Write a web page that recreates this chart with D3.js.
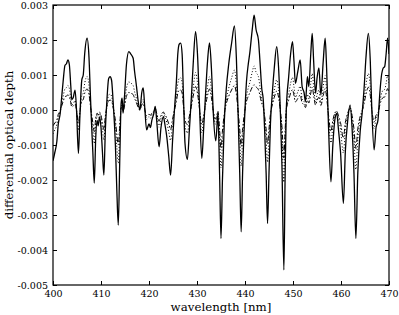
<!DOCTYPE html>
<html>
<head>
<meta charset="utf-8">
<script src="https://cdnjs.cloudflare.com/ajax/libs/d3/7.8.5/d3.min.js"></script>
<style>
  body { margin: 0; background: #fff; }
  svg { display: block; }
  .tick text { font-family: "DejaVu Serif", serif; font-size: 9.5px; fill: #000; }
  .lbl { font-family: "DejaVu Serif", serif; font-size: 11.8px; fill: #000; }
</style>
</head>
<body>
<div id="chart"></div>
<script>
// wavelength in nm
var wavelength = [400.0, 400.4, 400.8, 401.1, 401.5, 401.8, 402.1, 402.5, 402.8, 403.1,
  403.4, 403.7, 403.9, 404.2, 404.6, 404.9, 405.3, 405.6, 406.0, 406.3,
  406.6, 407.1, 407.5, 407.8, 408.0, 408.3, 408.6, 408.9, 409.2, 409.4,
  409.7, 410.0, 410.3, 410.6, 410.9, 411.2, 411.6, 411.9, 412.2, 412.5,
  413.0, 413.3, 413.6, 413.9, 414.2, 414.4, 414.6, 414.9, 415.3, 415.8,
  416.2, 416.7, 417.0, 417.4, 417.7, 418.1, 418.5, 418.8, 419.1, 419.5,
  420.0, 420.3, 420.6, 421.0, 421.3, 421.6, 422.1, 422.5, 423.0, 423.3,
  423.7, 424.1, 424.5, 424.9, 425.3, 425.7, 426.0, 426.3, 426.6, 426.9,
  427.2, 427.5, 428.0, 428.4, 428.8, 429.2, 429.7, 430.1, 430.5, 431.0,
  431.4, 431.8, 432.2, 432.6, 433.0, 433.4, 433.9, 434.1, 434.35, 434.7,
  435.0, 435.3, 435.7, 436.1, 436.6, 437.2, 437.8, 438.2, 438.6, 438.9,
  439.2, 439.5, 439.9, 440.3, 440.7, 441.0, 441.5, 441.9, 442.3, 442.8,
  443.1, 443.5, 443.8, 444.1, 444.4, 444.7, 445.0, 445.3, 445.7, 446.1,
  446.6, 447.0, 447.4, 447.7, 448.1, 448.35, 448.6, 449.1, 449.5, 449.9,
  450.2, 450.5, 451.0, 451.5, 451.9, 452.3, 452.6, 453.0, 453.3, 453.7,
  454.0, 454.3, 454.7, 455.0, 455.4, 455.8, 456.3, 456.7, 457.0, 457.4,
  457.9, 458.3, 458.7, 459.1, 459.5, 459.9, 460.5, 460.9, 461.4, 461.9,
  462.3, 462.7, 463.1, 463.5, 464.0, 464.4, 464.8, 465.2, 465.7, 466.1,
  466.4, 466.9, 467.3, 467.7, 468.1, 468.4, 468.8, 469.1, 469.4, 469.7,
  470.0];

// differential optical depth, in units of 1e-3
var solid = [-1.45, -1.2, -0.9, -0.4, -0.1, 0.35, 0.8, 1.28, 1.32, 1.43,
  1.3, 0.7, 0.3, 0.35, 0.57, 0.0, -1.24, -0.2, 0.86, 1.0,
  1.6, 2.05, 1.5, 0.4, -0.3, -1.2, -2.09, -0.8, -0.3, -0.45,
  -0.2, -0.5, -1.2, -1.86, -0.6, 0.2, 0.9, 0.95, 0.85, 0.3,
  -1.0, -2.3, -3.29, -1.5, 0.2, 0.34, -0.09, 0.4, 1.3, 1.67,
  1.6, 1.48, 1.1, 0.67, 0.3, 0.0, 0.5, 0.63, 0.1, -0.57,
  -0.4, -0.5, -0.29, -0.1, 0.1, -0.3, -1.05, -0.5, -0.19, -0.4,
  -0.76, -1.3, -1.86, -0.9, 0.0, 0.8, 1.6, 1.88, 1.91, 1.6,
  0.3, -0.95, -1.41, -0.6, 0.3, 1.3, 2.24, 1.6, 0.2, -1.38,
  -0.5, 0.5, 1.4, 1.92, 1.2, -0.1, -0.88, -0.6, -0.1, -1.8,
  -3.67, -2.0, -0.3, 0.6, 1.3, 1.9, 2.4, 1.5, -0.3, -1.8,
  -3.48, -1.8, -0.3, 0.8, 1.33, 1.63, 2.29, 2.71, 2.3, 2.0,
  1.43, 0.6, 0.3, -0.6, -1.8, -3.24, -1.8, -0.4, 0.5, 1.2,
  1.81, 1.2, -0.2, -1.6, -4.57, -2.0, 0.0, 0.95, 1.6, 1.95,
  1.4, 0.76, 1.1, 1.43, 0.67, 0.5, 0.24, 0.95, 0.67, 1.6,
  2.19, 1.4, 0.48, 0.9, 1.2, 0.43, 1.4, 2.05, 1.2, -0.48,
  -2.05, -1.0, -0.3, -0.1, -0.6, -1.2, -2.67, -1.2, -0.3, 0.14,
  -0.5, -1.8, -3.67, -1.8, -0.6, -0.1, 0.6, 1.5, 2.19, 1.4,
  0.1, -1.14, -0.5, -0.29, 0.5, 0.95, 1.2, 1.24, 1.6, 2.05,
  1.6];

var dotted = [-0.68, -0.56, -0.42, -0.19, -0.05, 0.17, 0.38, 0.61, 0.64, 0.70,
  0.62, 0.33, 0.14, 0.17, 0.27, 0.0, -0.58, -0.09, 0.41, 0.48,
  0.76, 0.96, 0.71, 0.19, -0.14, -0.55, -0.96, -0.37, -0.14, -0.21,
  -0.09, -0.23, -0.55, -0.86, -0.28, 0.09, 0.43, 0.45, 0.40, 0.14,
  -0.46, -1.06, -1.52, -0.69, 0.09, 0.16, -0.04, 0.19, 0.62, 0.80,
  0.77, 0.70, 0.52, 0.32, 0.14, 0.0, 0.24, 0.30, 0.05, -0.27,
  -0.19, -0.24, -0.14, -0.05, 0.05, -0.14, -0.49, -0.24, -0.09, -0.19,
  -0.36, -0.61, -0.87, -0.42, 0.0, 0.38, 0.76, 0.90, 0.92, 0.77,
  0.14, -0.45, -0.66, -0.28, 0.14, 0.62, 1.07, 0.77, 0.10, -0.65,
  -0.24, 0.24, 0.67, 0.95, 0.58, -0.05, -0.41, -0.28, -0.05, -0.83,
  -1.65, -0.92, -0.14, 0.29, 0.62, 0.91, 1.14, 0.72, -0.14, -0.83,
  -1.60, -0.83, -0.14, 0.38, 0.64, 0.78, 1.08, 1.26, 1.08, 0.95,
  0.68, 0.28, 0.14, -0.28, -0.83, -1.49, -0.83, -0.19, 0.24, 0.57,
  0.86, 0.57, -0.09, -0.74, -2.06, -0.92, 0.0, 0.45, 0.76, 0.93,
  0.67, 0.36, 0.52, 0.68, 0.32, 0.24, 0.11, 0.45, 0.32, 0.76,
  1.04, 0.67, 0.23, 0.43, 0.57, 0.20, 0.67, 0.98, 0.57, -0.23,
  -0.94, -0.47, -0.14, -0.05, -0.28, -0.56, -1.23, -0.56, -0.14, 0.07,
  -0.24, -0.83, -1.70, -0.83, -0.28, -0.05, 0.29, 0.72, 1.04, 0.67,
  0.05, -0.53, -0.24, -0.14, 0.24, 0.45, 0.57, 0.59, 0.76, 0.98,
  0.76];

var dashdot = [-0.45, -0.37, -0.28, -0.12, -0.03, 0.11, 0.24, 0.38, 0.40, 0.43,
  0.39, 0.21, 0.09, 0.11, 0.17, 0.0, -0.37, -0.06, 0.26, 0.30,
  0.48, 0.60, 0.45, 0.12, -0.09, -0.36, -0.62, -0.24, -0.09, -0.14,
  -0.06, -0.15, -0.36, -0.56, -0.18, 0.06, 0.27, 0.28, 0.26, 0.09,
  -0.30, -0.69, -0.99, -0.45, 0.06, 0.10, -0.03, 0.12, 0.39, 0.50,
  0.48, 0.44, 0.33, 0.20, 0.09, 0.0, 0.15, 0.19, 0.03, -0.17,
  -0.12, -0.15, -0.09, -0.03, 0.03, -0.09, -0.32, -0.15, -0.06, -0.12,
  -0.23, -0.39, -0.56, -0.27, 0.0, 0.24, 0.48, 0.56, 0.57, 0.48,
  0.09, -0.29, -0.42, -0.18, 0.09, 0.39, 0.67, 0.48, 0.06, -0.41,
  -0.15, 0.15, 0.42, 0.60, 0.36, -0.03, -0.26, -0.18, -0.03, -0.54,
  -1.10, -0.60, -0.09, 0.18, 0.39, 0.57, 0.70, 0.45, -0.09, -0.54,
  -1.04, -0.54, -0.09, 0.24, 0.40, 0.49, 0.65, 0.72, 0.66, 0.58,
  0.42, 0.18, 0.09, -0.18, -0.54, -0.97, -0.54, -0.12, 0.15, 0.36,
  0.54, 0.36, -0.06, -0.48, -1.37, -0.60, 0.0, 0.28, 0.48, 0.58,
  0.42, 0.23, 0.33, 0.43, 0.20, 0.15, 0.07, 0.28, 0.20, 0.48,
  0.65, 0.42, 0.14, 0.27, 0.36, 0.13, 0.42, 0.61, 0.36, -0.14,
  -0.61, -0.30, -0.09, -0.03, -0.18, -0.36, -0.80, -0.36, -0.09, 0.04,
  -0.15, -0.54, -1.10, -0.54, -0.18, -0.03, 0.18, 0.45, 0.65, 0.42,
  0.03, -0.34, -0.15, -0.09, 0.15, 0.28, 0.36, 0.37, 0.48, 0.61,
  0.48];

var xTicks = [400, 410, 420, 430, 440, 450, 460, 470];
var yTicks = [-5, -4, -3, -2, -1, 0, 1, 2, 3];

var width = 399, height = 315;
var margin = { top: 5, right: 10, bottom: 30, left: 53 };
var w = 389 - margin.left, h = 285 - margin.top;

var svg = d3.select("#chart").append("svg")
  .attr("width", width)
  .attr("height", height);

var g = svg.append("g")
  .attr("transform", "translate(" + margin.left + "," + margin.top + ")");

var x = d3.scaleLinear().domain([400, 470]).range([0, w]);
var y = d3.scaleLinear().domain([-5, 3]).range([h, 0]);

var fmt = function(d) { return (d / 1000).toFixed(3); };

var series = [
  { values: solid, dash: null, width: 1.3 },
  { values: dotted, dash: "1,2", width: 1 },
  { values: dashdot, dash: "5,2,1.5,2", width: 1 }
];

var line = d3.line()
  .x(function(d) { return x(d[0]); })
  .y(function(d) { return y(d[1]); })
  .curve(d3.curveMonotoneX);

var clip = g.append("clipPath").attr("id", "clip")
  .append("rect").attr("width", w).attr("height", h);

// draw in reverse so the solid line sits on top
series.slice().reverse().forEach(function(s) {
  g.append("path")
    .datum(wavelength.map(function(l, i) { return [l, s.values[i]]; }))
    .attr("clip-path", "url(#clip)")
    .attr("fill", "none")
    .attr("stroke", "#000")
    .attr("stroke-width", s.width)
    .attr("stroke-dasharray", s.dash)
    .attr("d", line);
});

g.append("g")
  .attr("transform", "translate(0," + h + ")")
  .call(d3.axisBottom(x).tickValues(xTicks).tickSizeInner(-4).tickSizeOuter(0).tickPadding(5));
g.append("g")
  .call(d3.axisTop(x).tickValues(xTicks).tickSizeInner(-4).tickSizeOuter(0).tickFormat(""));
g.append("g")
  .call(d3.axisLeft(y).tickValues(yTicks).tickSizeInner(-4).tickSizeOuter(0).tickPadding(5).tickFormat(fmt));
g.append("g")
  .attr("transform", "translate(" + w + ",0)")
  .call(d3.axisRight(y).tickValues(yTicks).tickSizeInner(-4).tickSizeOuter(0).tickFormat(""));

g.selectAll(".domain").remove();
g.selectAll(".tick line").attr("stroke", "#000");

g.append("rect")
  .attr("width", w)
  .attr("height", h)
  .attr("fill", "none")
  .attr("stroke", "#000")
  .attr("stroke-width", 1.2);

svg.append("text")
  .attr("class", "lbl")
  .attr("x", margin.left + w / 2)
  .attr("y", 311)
  .attr("text-anchor", "middle")
  .text("wavelength [nm]");

svg.append("text")
  .attr("class", "lbl")
  .attr("transform", "translate(9," + (margin.top + h / 2) + ") rotate(-90)")
  .attr("text-anchor", "middle")
  .attr("dy", "0.35em")
  .text("differential optical depth");
</script>
</body>
</html>
